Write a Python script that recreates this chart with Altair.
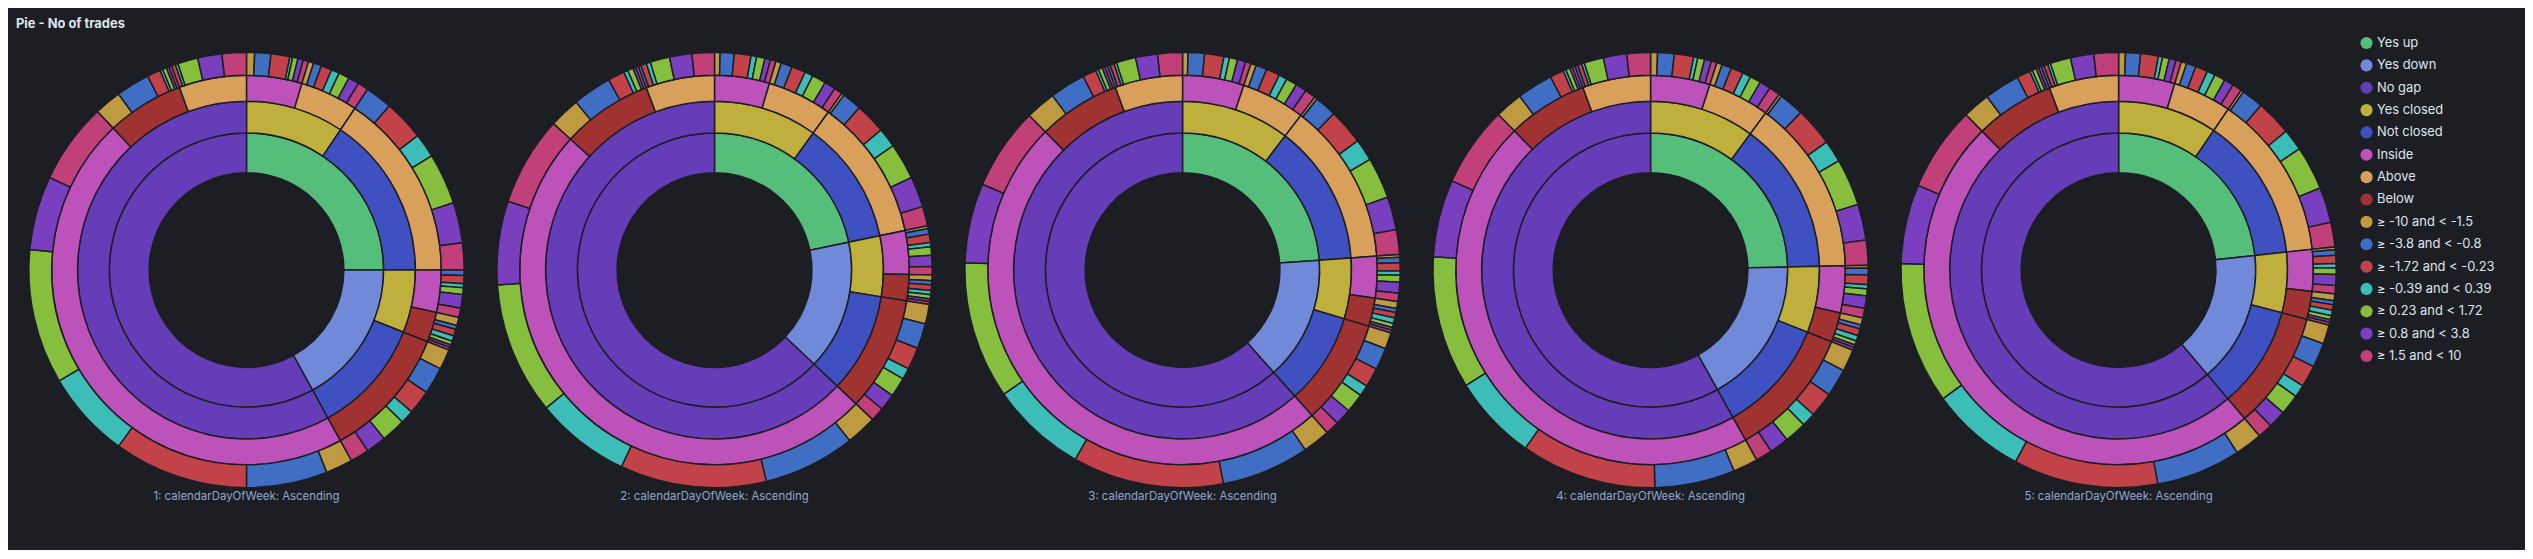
import pandas as pd
import altair as alt

# ------------------------------------------------------------
# Data: leaves per weekday  (gap, closed, position, range counts)
# ------------------------------------------------------------
ranges = [
    "≥ -10 and < -1.5", "≥ -3.8 and < -0.8", "≥ -1.72 and < -0.23",
    "≥ -0.39 and < 0.39", "≥ 0.23 and < 1.72", "≥ 0.8 and < 3.8", "≥ 1.5 and < 10",
]
gaps = ["Yes up", "Yes down", "No gap"]
closed = ["Yes closed", "Not closed"]
positions = ["Inside", "Above", "Below"]

day1 = [
    ("Yes up", "Yes closed", "Inside", [6, 12, 14, 2, 4, 4, 4]),
    ("Yes up", "Yes closed", "Above", [4, 6, 8, 6, 8, 8, 8]),
    ("Yes up", "Not closed", "Above", [0, 20, 30, 18, 38, 30, 20]),
    ("Yes down", "Yes closed", "Inside", [0, 4, 6, 3, 5, 10, 7]),
    ("Yes down", "Yes closed", "Below", [6, 3, 5, 4, 3, 2, 2]),
    ("Yes down", "Not closed", "Below", [15, 20, 18, 10, 18, 15, 14]),
    ("No gap", "No gap", "Inside", [20, 60, 100, 65, 100, 55, 60]),
    ("No gap", "No gap", "Below", [20, 25, 10, 2, 3, 2, 2]),
    ("No gap", "No gap", "Above", [0, 0, 3, 2, 15, 18, 18]),
]
day2 = [
    ("Yes up", "Yes closed", "Inside", [4, 10, 12, 4, 6, 4, 4]),
    ("Yes up", "Yes closed", "Above", [4, 8, 10, 6, 10, 8, 6]),
    ("Yes up", "Not closed", "Above", [2, 14, 22, 14, 26, 22, 14]),
    ("Yes down", "Yes closed", "Inside", [2, 4, 6, 3, 6, 8, 6]),
    ("Yes down", "Yes closed", "Below", [4, 3, 4, 3, 3, 2, 2]),
    ("Yes down", "Not closed", "Below", [14, 18, 16, 8, 14, 12, 10]),
    ("No gap", "No gap", "Inside", [22, 66, 105, 68, 95, 60, 64]),
    ("No gap", "No gap", "Below", [22, 28, 12, 3, 4, 2, 2]),
    ("No gap", "No gap", "Above", [0, 2, 4, 3, 14, 16, 16]),
]
day3 = [
    ("Yes up", "Yes closed", "Inside", [4, 12, 14, 4, 6, 6, 4]),
    ("Yes up", "Yes closed", "Above", [4, 8, 10, 6, 8, 8, 8]),
    ("Yes up", "Not closed", "Above", [2, 16, 26, 16, 30, 24, 18]),
    ("Yes down", "Yes closed", "Inside", [2, 4, 6, 3, 5, 8, 6]),
    ("Yes down", "Yes closed", "Below", [5, 3, 4, 4, 3, 2, 2]),
    ("Yes down", "Not closed", "Below", [12, 16, 14, 8, 14, 12, 10]),
    ("No gap", "No gap", "Inside", [20, 64, 110, 70, 100, 58, 60]),
    ("No gap", "No gap", "Below", [22, 26, 10, 2, 3, 2, 2]),
    ("No gap", "No gap", "Above", [0, 2, 3, 2, 14, 16, 18]),
]
day4 = [
    ("Yes up", "Yes closed", "Inside", [5, 12, 14, 3, 5, 5, 4]),
    ("Yes up", "Yes closed", "Above", [4, 7, 9, 6, 8, 8, 8]),
    ("Yes up", "Not closed", "Above", [2, 18, 28, 16, 34, 26, 18]),
    ("Yes down", "Yes closed", "Inside", [2, 5, 7, 3, 5, 9, 7]),
    ("Yes down", "Yes closed", "Below", [5, 3, 5, 4, 3, 2, 2]),
    ("Yes down", "Not closed", "Below", [16, 20, 18, 10, 16, 14, 12]),
    ("No gap", "No gap", "Inside", [18, 58, 98, 62, 96, 56, 58]),
    ("No gap", "No gap", "Below", [20, 26, 10, 2, 3, 2, 2]),
    ("No gap", "No gap", "Above", [0, 2, 3, 2, 14, 17, 17]),
]
day5 = [
    ("Yes up", "Yes closed", "Inside", [5, 11, 13, 3, 5, 5, 4]),
    ("Yes up", "Yes closed", "Above", [4, 7, 9, 6, 8, 7, 7]),
    ("Yes up", "Not closed", "Above", [2, 16, 26, 16, 32, 26, 18]),
    ("Yes down", "Yes closed", "Inside", [2, 4, 6, 3, 5, 8, 6]),
    ("Yes down", "Yes closed", "Below", [5, 3, 4, 4, 3, 2, 2]),
    ("Yes down", "Not closed", "Below", [14, 18, 16, 9, 15, 13, 11]),
    ("No gap", "No gap", "Inside", [20, 62, 106, 70, 104, 58, 62]),
    ("No gap", "No gap", "Below", [20, 26, 10, 2, 3, 2, 2]),
    ("No gap", "No gap", "Above", [0, 2, 3, 2, 15, 17, 18]),
]
days = [day1, day2, day3, day4, day5]

legend_labels = gaps + closed + positions + ranges
legend_colors = [
    "#54BE7A", "#7089D8", "#663DB9", "#BFAF3D", "#3F50C0", "#BC52BA", "#D9A05C",
    "#A03232", "#BE9A40", "#3F6EC4", "#C2424A", "#3DBDB8", "#86BE3E", "#7A3FBF", "#C2407A",
]

ring_radii = [(98, 138), (138, 170), (170, 196), (196, 219)]

# ------------------------------------------------------------
# Build long table: one row per ring segment
# ------------------------------------------------------------
rows = []
for d, leaves in enumerate(days, start=1):
    leaf_rows = []
    for g, c, p, counts in leaves:
        for r, n in zip(ranges, counts):
            if n > 0:
                leaf_rows.append({"g": g, "c": c, "p": p, "r": r, "n": n})
    lf = pd.DataFrame(leaf_rows)
    keys = [["g"], ["g", "c"], ["g", "c", "p"], ["g", "c", "p", "r"]]
    for lvl, k in enumerate(keys):
        agg = lf.groupby(k, sort=False)["n"].sum().reset_index()
        for i, rec in enumerate(agg.to_dict("records")):
            rows.append({"day": d, "level": lvl, "idx": i,
                         "label": rec[k[-1]], "n": rec["n"]})
df = pd.DataFrame(rows)

color = alt.Color(
    "label:N",
    scale=alt.Scale(domain=legend_labels, range=legend_colors),
    legend=alt.Legend(
        title=None, orient="right", offset=12, symbolType="circle", symbolSize=150,
        symbolStrokeWidth=0, labelColor="#DFE5EF", labelFontSize=13,
        labelFont="Inter", rowPadding=8.5, padding=0, offset_y=0,
    ) if False else alt.Legend(
        title=None, orient="right", offset=12, symbolType="circle", symbolSize=150,
        symbolStrokeWidth=0, labelColor="#DFE5EF", labelFontSize=13,
        labelFont="Inter", rowPadding=8.5, padding=0,
    ),
)

W, H = 462, 470


def pie(d):
    layers = []
    for lvl, (r0, r1) in enumerate(ring_radii):
        layers.append(
            alt.Chart(df)
            .transform_filter((alt.datum.day == d) & (alt.datum.level == lvl))
            .mark_arc(radius=r1, radius2=r0, stroke="#1D1E24", strokeWidth=1.5)
            .encode(
                theta=alt.Theta("n:Q", stack="normalize"),
                order=alt.Order("idx:Q"),
                color=color,
            )
        )
    label = (
        alt.Chart(pd.DataFrame({"t": [f"{d}: calendarDayOfWeek: Ascending"]}))
        .mark_text(fontSize=11.5, font="Inter", color="#8FA9CF")
        .encode(text="t:N", x=alt.value(W / 2), y=alt.value(463))
    )
    return alt.layer(*layers, label).properties(width=W, height=H)


chart = (
    alt.hconcat(*[pie(d) for d in range(1, 6)], spacing=9)
    .properties(
        title=alt.TitleParams(
            "Pie - No of trades", anchor="start", color="#DFE5EF", fontSize=13,
            font="Inter", fontWeight="bold", offset=6, dx=-1,
        ),
        padding={"left": 8, "top": 8, "right": 30, "bottom": 45},
    )
    .configure(background="#1D1E24")
    .configure_view(stroke=None)
)

chart.save("out.html", embed_options={"renderer": "svg", "actions": False})
